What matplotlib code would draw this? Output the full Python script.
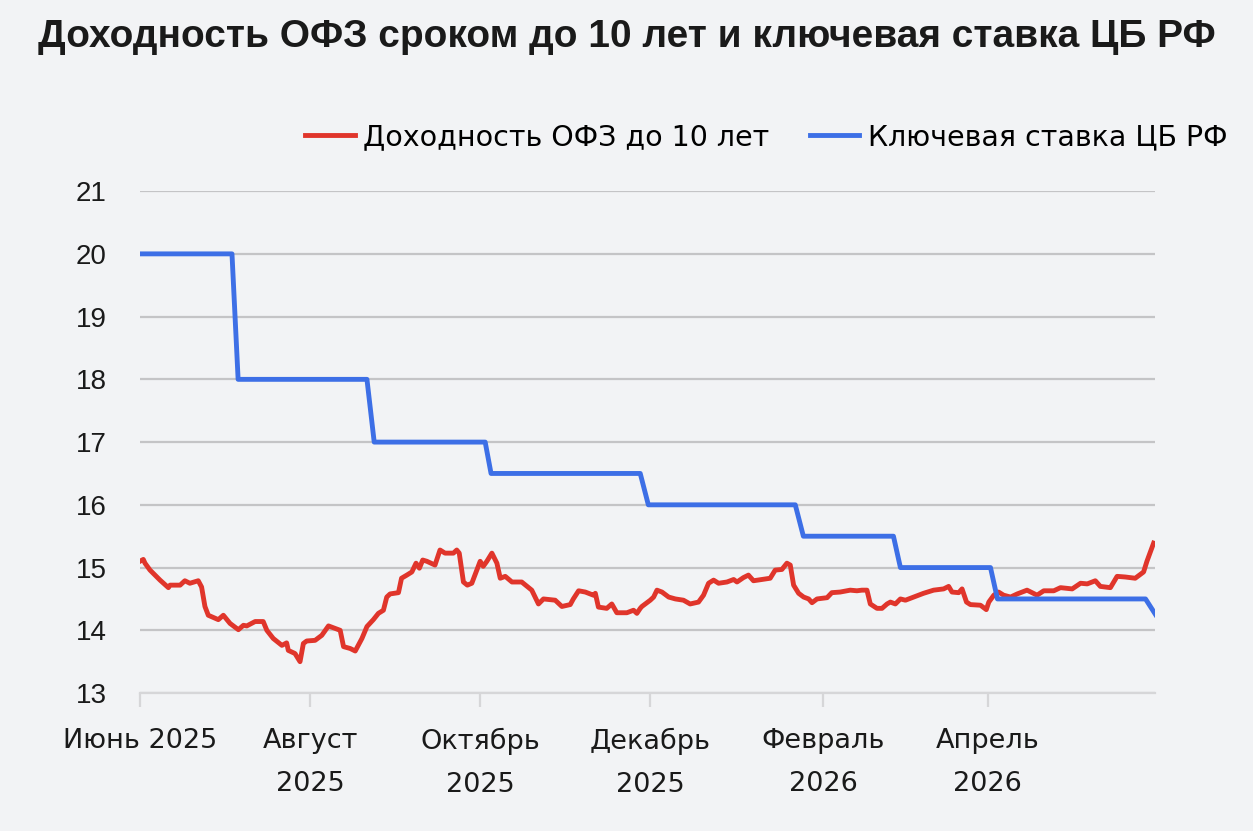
import pandas as pd
import matplotlib.pyplot as plt
import matplotlib.dates as mdates

plt.rcParams['font.family'] = ['Liberation Sans', 'DejaVu Sans']

start = pd.Timestamp('2025-06-01')

# доходность ОФЗ до 10 лет: смещение в днях от 01.06.2025 и значение
ofz_days = [0.0, 1.2, 1.8, 3.6, 7.2, 10.2, 10.8, 14.4, 16.1, 17.9, 20.9, 22.1, 23.3, 24.5,
            28.1, 29.9, 32.3, 35.3, 37.1, 38.3, 41.3, 44.2, 45.5, 47.8, 50.9, 52.6, 53.2,
            55.6, 57.4, 58.6, 59.8, 62.8, 65.2, 67.6, 70.0, 71.8, 73.0, 75.4, 77.2, 79.6,
            81.4, 83.7, 85.5, 87.3, 88.5, 89.7, 92.7, 93.8, 95.7, 97.5, 99.0, 100.2, 101.4,
            102.9, 105.8, 107.6, 109.4, 112.4, 113.6, 114.5, 116.0, 117.4, 119.0, 122.0,
            123.1, 124.4, 126.2, 128.0, 129.2, 131.0, 133.4, 136.9, 140.5, 142.9, 144.7,
            148.9, 151.3, 154.3, 155.4, 157.3, 159.7, 162.6, 163.3, 164.4, 167.4, 169.2,
            171.0, 174.6, 177.0, 178.2, 179.4, 180.0, 183.0, 184.2, 185.4, 187.2, 189.6,
            192.0, 194.9, 197.3, 200.3, 202.1, 203.9, 205.7, 207.5, 210.5, 212.9, 214.1,
            216.4, 218.2, 220.0, 223.0, 226.0, 227.8, 230.2, 232.0, 233.2, 234.4, 236.2,
            238.0, 239.8, 241.0, 242.8, 246.4, 248.1, 251.1, 254.7, 257.1, 258.9, 260.7,
            261.9, 264.3, 266.1, 267.9, 269.1, 270.9, 272.7, 274.5, 277.5, 281.0, 284.6,
            288.2, 290.0, 291.2, 293.6, 294.8, 296.4, 297.8, 301.4, 303.5, 304.4, 306.2,
            307.9, 309.7, 312.2, 314.6, 318.1, 321.7, 324.1, 327.7, 330.1, 334.3, 337.3,
            339.7, 342.6, 344.4, 348.0, 350.4, 353.3, 356.9, 359.9, 361.1, 363.5]
ofz_vals = [15.10, 15.13, 15.07, 14.96, 14.80, 14.68, 14.72, 14.72, 14.79, 14.75, 14.79, 14.69,
            14.38, 14.24, 14.17, 14.24, 14.11, 14.01, 14.08, 14.07, 14.14, 14.14, 14.00, 13.87,
            13.76, 13.80, 13.68, 13.63, 13.50, 13.79, 13.83, 13.84, 13.92, 14.07, 14.03, 14.00,
            13.74, 13.71, 13.67, 13.87, 14.06, 14.17, 14.27, 14.32, 14.53, 14.58, 14.60, 14.83,
            14.88, 14.93, 15.07, 14.99, 15.12, 15.10, 15.04, 15.28, 15.23, 15.23, 15.28, 15.23,
            14.77, 14.72, 14.75, 15.10, 15.02, 15.10, 15.23, 15.07, 14.83, 14.86, 14.77, 14.77,
            14.64, 14.42, 14.50, 14.48, 14.38, 14.41, 14.50, 14.63, 14.61, 14.56, 14.59, 14.37,
            14.35, 14.42, 14.28, 14.28, 14.32, 14.27, 14.35, 14.38, 14.48, 14.53, 14.64, 14.61,
            14.53, 14.50, 14.48, 14.42, 14.45, 14.56, 14.75, 14.80, 14.75, 14.77, 14.81, 14.77,
            14.84, 14.88, 14.79, 14.81, 14.83, 14.96, 14.97, 15.07, 15.04, 14.72, 14.59, 14.53,
            14.50, 14.44, 14.50, 14.52, 14.60, 14.61, 14.64, 14.63, 14.64, 14.64, 14.42, 14.35,
            14.35, 14.42, 14.45, 14.42, 14.50, 14.48, 14.53, 14.59, 14.64, 14.66, 14.70, 14.61,
            14.60, 14.66, 14.45, 14.41, 14.40, 14.33, 14.45, 14.56, 14.61, 14.56, 14.53, 14.58,
            14.64, 14.56, 14.63, 14.63, 14.68, 14.66, 14.75, 14.74, 14.79, 14.70, 14.68, 14.86,
            14.85, 14.83, 14.93, 15.10, 15.39]

# ключевая ставка ЦБ РФ
key_days = [0.0, 33.0, 35.2, 81.4, 84.0, 123.8, 125.9, 179.4, 182.3, 235.0, 237.9,
            270.2, 272.7, 305.0, 307.5, 360.6, 364.2]
key_vals = [20, 20, 18, 18, 17, 17, 16.5, 16.5, 16, 16, 15.5, 15.5, 15, 15, 14.5, 14.5, 14.25]

tick_dates = ['2025-06-01', '2025-08-01', '2025-10-01', '2025-12-01', '2026-02-01', '2026-04-01']
tick_labels = ['Июнь 2025', 'Август\n2025', 'Октябрь\n2025', 'Декабрь\n2025',
               'Февраль\n2026', 'Апрель\n2026']

bg = '#f2f3f5'
red = '#e0352b'
blue = '#3d6fe6'
wide = ['DejaVu Sans']

ofz_x = start + pd.to_timedelta(ofz_days, unit='D')
key_x = start + pd.to_timedelta(key_days, unit='D')

fig = plt.figure(figsize=(12.53, 8.31), dpi=100, facecolor=bg)
ax = fig.add_axes([0.1117, 0.166, 0.8101, 0.604], facecolor=bg)

ax.plot(ofz_x, ofz_vals, color=red, lw=3.5, solid_joinstyle='round', label='Доходность ОФЗ до 10 лет')
ax.plot(key_x, key_vals, color=blue, lw=3.5, solid_joinstyle='round', label='Ключевая ставка ЦБ РФ')

ax.set_ylim(13, 21)
ax.set_yticks(range(13, 22))
ax.set_xlim(start, pd.Timestamp('2026-05-31'))
ax.set_xticks(pd.to_datetime(tick_dates))
ax.set_xticklabels(tick_labels, fontsize=19.5, color='#1a1a1a', linespacing=1.85, va='top',
                   family=wide)

ax.grid(axis='y', color='#c4c4c6', lw=1.6)
ax.set_axisbelow(True)
for s in ['top', 'right', 'left']:
    ax.spines[s].set_visible(False)
ax.spines['bottom'].set_color('#d6d6d8')
ax.spines['bottom'].set_linewidth(1.6)
ax.tick_params(axis='x', length=10, width=1.6, color='#d6d6d8', pad=15)
ax.tick_params(axis='y', length=0, pad=24, labelsize=20, labelcolor='#1a1a1a')
ax.xaxis.set_minor_locator(mdates.MonthLocator(bymonthday=31))
ax.tick_params(axis='x', which='minor', length=0)

fig.text(0.5, 0.956, 'Доходность ОФЗ сроком до 10 лет и ключевая ставка ЦБ РФ',
         ha='center', va='center', fontsize=28, fontweight='bold', color='#1a1a1a')

fig.legend(loc='center right', bbox_to_anchor=(1.0, 0.835), ncol=2, frameon=False,
           prop={'family': wide, 'size': 20.5}, handlelength=1.75, handletextpad=0.3,
           columnspacing=1.4)

fig.savefig('out.png', dpi=100, facecolor=bg)
